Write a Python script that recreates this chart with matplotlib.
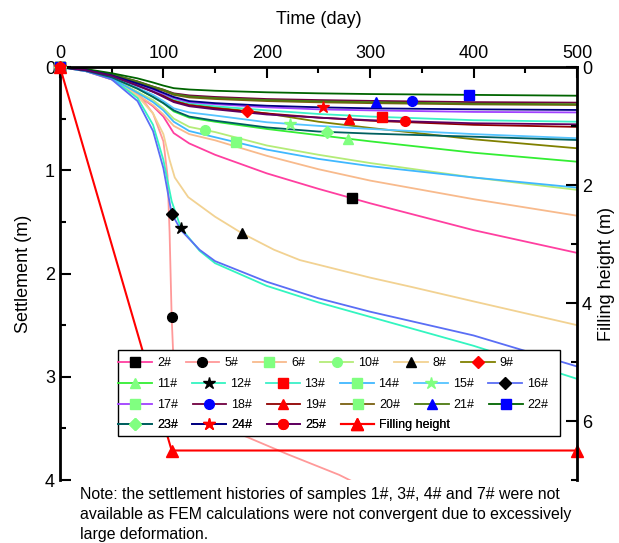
import numpy as np
import matplotlib.pyplot as plt
from matplotlib.lines import Line2D
from matplotlib.patches import Rectangle

plt.rcParams['font.family'] = ['Liberation Sans', 'DejaVu Sans']

# time grid (day) shared by the curves that converged normally
days = [0, 25, 50, 75, 90, 100, 110, 125, 150, 200, 250, 300, 400, 500]

s2 = [0, .04, .12, .27, .38, .48, .64, .74, .85, 1.03, 1.18, 1.32, 1.58, 1.80]
s6 = [0, .04, .12, .27, .37, .46, .57, .65, .71, .86, .99, 1.10, 1.28, 1.44]
s10 = [0, .04, .11, .24, .32, .40, .50, .58, .63, .76, .85, .93, 1.07, 1.19]
s9 = [0, .03, .08, .17, .23, .27, .32, .355, .39, .45, .53, .59, .70, .787]
s11 = [0, .035, .10, .21, .29, .35, .43, .49, .53, .60, .66, .72, .83, .917]
s13 = [0, .03, .08, .17, .23, .27, .31, .35, .38, .42, .455, .48, .515, .53]
s14 = [0, .04, .11, .25, .34, .42, .53, .62, .68, .80, .89, .96, 1.07, 1.168]
s15 = [0, .035, .09, .20, .27, .33, .40, .44, .47, .535, .57, .60, .65, .69]
s17 = [0, .03, .08, .16, .22, .26, .30, .34, .36, .39, .41, .42, .435, .44]
s18 = [0, .025, .07, .14, .19, .22, .255, .275, .29, .31, .32, .328, .34, .345]
s19 = [0, .03, .085, .18, .24, .28, .33, .37, .40, .45, .49, .52, .56, .58]
s20 = [0, .027, .075, .15, .20, .23, .27, .295, .31, .33, .342, .35, .362, .368]
s21 = [0, .025, .07, .14, .19, .22, .26, .285, .30, .32, .332, .34, .355, .36]
s22 = [0, .02, .06, .11, .15, .18, .205, .218, .23, .245, .255, .262, .27, .278]
s23 = [0, .035, .10, .21, .29, .35, .42, .48, .52, .585, .625, .645, .675, .707]
s24 = [0, .03, .08, .16, .21, .25, .29, .33, .35, .375, .39, .40, .41, .416]
s25 = [0, .03, .085, .18, .24, .29, .34, .38, .41, .46, .49, .515, .545, .555]

# samples with large (near failure) deformation
days5 = [0, 25, 50, 75, 90, 100, 104, 106, 108, 110, 115, 130, 150, 180, 220, 270, 290]
s5 = [0, .03, .10, .25, .45, .72, 1.05, 1.6, 2.42, 2.9, 3.15, 3.35, 3.47, 3.58, 3.75, 3.95, 4.05]
days8 = [0, 25, 50, 75, 90, 100, 106, 111, 124, 150, 176, 207, 232, 300, 340, 400, 500]
s8 = [0, .035, .11, .28, .45, .65, .90, 1.07, 1.26, 1.45, 1.61, 1.77, 1.87, 2.04, 2.13, 2.27, 2.50]
days12 = [0, 25, 50, 75, 90, 100, 108, 117, 135, 150, 200, 250, 300, 400, 500]
s12 = [0, .035, .11, .30, .56, .90, 1.30, 1.56, 1.78, 1.90, 2.12, 2.28, 2.42, 2.70, 3.02]
days16 = [0, 25, 50, 75, 90, 100, 108, 117, 135, 150, 200, 250, 300, 400, 500]
s16 = [0, .04, .12, .33, .62, .98, 1.42, 1.58, 1.77, 1.88, 2.08, 2.24, 2.37, 2.60, 2.90]

# filling height
fill_days = [0, 108, 500]
fill_h = [0, 6.5, 6.5]

labels = ['2#', '5#', '6#', '10#', '8#', '9#', '11#', '12#', '13#', '14#', '15#',
          '16#', '17#', '18#', '19#', '20#', '21#', '22#', '23#', '24#', '25#']
series = [(days, s2), (days5, s5), (days, s6), (days, s10), (days8, s8), (days, s9),
          (days, s11), (days12, s12), (days, s13), (days, s14), (days, s15),
          (days16, s16), (days, s17), (days, s18), (days, s19), (days, s20),
          (days, s21), (days, s22), (days, s23), (days, s24), (days, s25)]
line_colors = ['#FF3FA0', '#FF9999', '#F8BA8C', '#B4EC78', '#F2D292', '#808000',
               '#33EE33', '#33F5C0', '#3CF0C8', '#40B8FF', '#55C4FF', '#5A6EF5',
               '#A040FF', '#700040', '#900000', '#7A6010', '#4C7A10', '#006400',
               '#005F5F', '#000080', '#600060']
lg = '#80FF80'
markers = ['s', 'o', 's', 'o', '^', 'D', '^', '*', 's', 's', '*', 'D', 's', 'o', '^',
           's', '^', 's', 'D', '*', 'o']
marker_colors = ['k', 'k', lg, lg, 'k', 'r', lg, 'k', 'r', lg, lg, 'k', lg, 'b', 'r',
                 lg, 'b', 'b', lg, 'r', 'r']
marker_day = [282, 108, None, 140, 176, 181, 279, 117, 311, 170, 222, 108, None, 340,
              280, None, 306, 396, 258, 254, 334]

fig = plt.figure(figsize=(6.19, 5.43), dpi=100)
ax = fig.add_axes([0.0969, 0.116, 0.8352, 0.7606])

handles = []
for (t, s), lab, c, m, mc, md in zip(series, labels, line_colors, markers,
                                     marker_colors, marker_day):
    ax.plot(t, s, color=c, lw=1.3, zorder=2)
    ms = 9 if m == '*' else (6 if m == 'D' else 7)
    mt = [0] if md is None else [0, md]
    ax.plot(mt, np.interp(mt, t, s), ls='none', marker=m, ms=ms, mfc=mc, mec=mc,
            clip_on=False, zorder=3)
    handles.append(Line2D([], [], color=c, lw=1.3, marker=m, ms=ms, mfc=mc, mec=mc))

ax.set_xlim(0, 500)
ax.set_ylim(4, 0)
ax.xaxis.tick_top()
ax.xaxis.set_label_position('top')
ax.set_xticks(range(0, 501, 100))
ax.set_xticks(range(0, 501, 50), minor=True)
ax.set_yticks([0, 1, 2, 3, 4])
ax.set_yticks([0.5, 1.5, 2.5, 3.5], minor=True)
ax.set_xlabel('Time (day)', fontsize=13, labelpad=15)
ax.set_ylabel('Settlement (m)', fontsize=13, labelpad=9)
ax.tick_params(which='both', direction='in', labelsize=13, width=1.5, right=False)
ax.tick_params(which='major', length=8)
ax.tick_params(which='minor', length=4)
ax.spines['bottom'].set_visible(False)
ax.spines['right'].set_visible(False)
for sp in ['left', 'top']:
    ax.spines[sp].set_linewidth(2)

ax2 = ax.twinx()
ax2.plot(fill_days, fill_h, color='red', lw=1.5, marker='^', ms=8, clip_on=False)
handles.append(Line2D([], [], color='red', lw=1.5, marker='^', ms=8))
ax2.set_ylim(7, 0)
ax2.set_yticks([0, 2, 4, 6])
ax2.set_yticks([1, 3, 5, 7], minor=True)
ax2.set_ylabel('Filling height (m)', fontsize=13, labelpad=4)
ax2.tick_params(which='both', direction='in', labelsize=13, width=1.5)
ax2.tick_params(which='major', length=8)
ax2.tick_params(which='minor', length=4)
ax2.spines['bottom'].set_visible(False)
ax2.spines['left'].set_visible(False)
ax2.spines['top'].set_visible(False)
ax2.spines['right'].set_linewidth(2)

# legend: white box with four rows laid out left to right
leg_labels = labels + ['Filling height']
ax2.add_patch(Rectangle((0.112, 0.107), 0.855, 0.208, transform=ax2.transAxes,
                        facecolor='white', edgecolor='black', lw=1, zorder=9,
                        clip_on=False))
row_y = [0.2833, 0.2324, 0.1816, 0.1332]
for r, y in enumerate(row_y):
    idx = list(range(r * 6, min(r * 6 + 6, len(leg_labels))))
    leg = ax2.legend([handles[i] for i in idx], [leg_labels[i] for i in idx],
                     ncol=len(idx), loc='center left', bbox_to_anchor=(0.113, y),
                     fontsize=9, frameon=False, borderpad=0, borderaxespad=0,
                     handlelength=2.7, handletextpad=0.4, columnspacing=1.15,
                     numpoints=1)
    leg.set_zorder(10)
    ax2.add_artist(leg)

fig.text(0.129, 0.104, 'Note: the settlement histories of samples 1#, 3#, 4# and 7# were not\n'
         'available as FEM calculations were not convergent due to excessively\n'
         'large deformation.', fontsize=11.4, va='top', ha='left', linespacing=1.45)

fig.savefig('out.png', dpi=100)
